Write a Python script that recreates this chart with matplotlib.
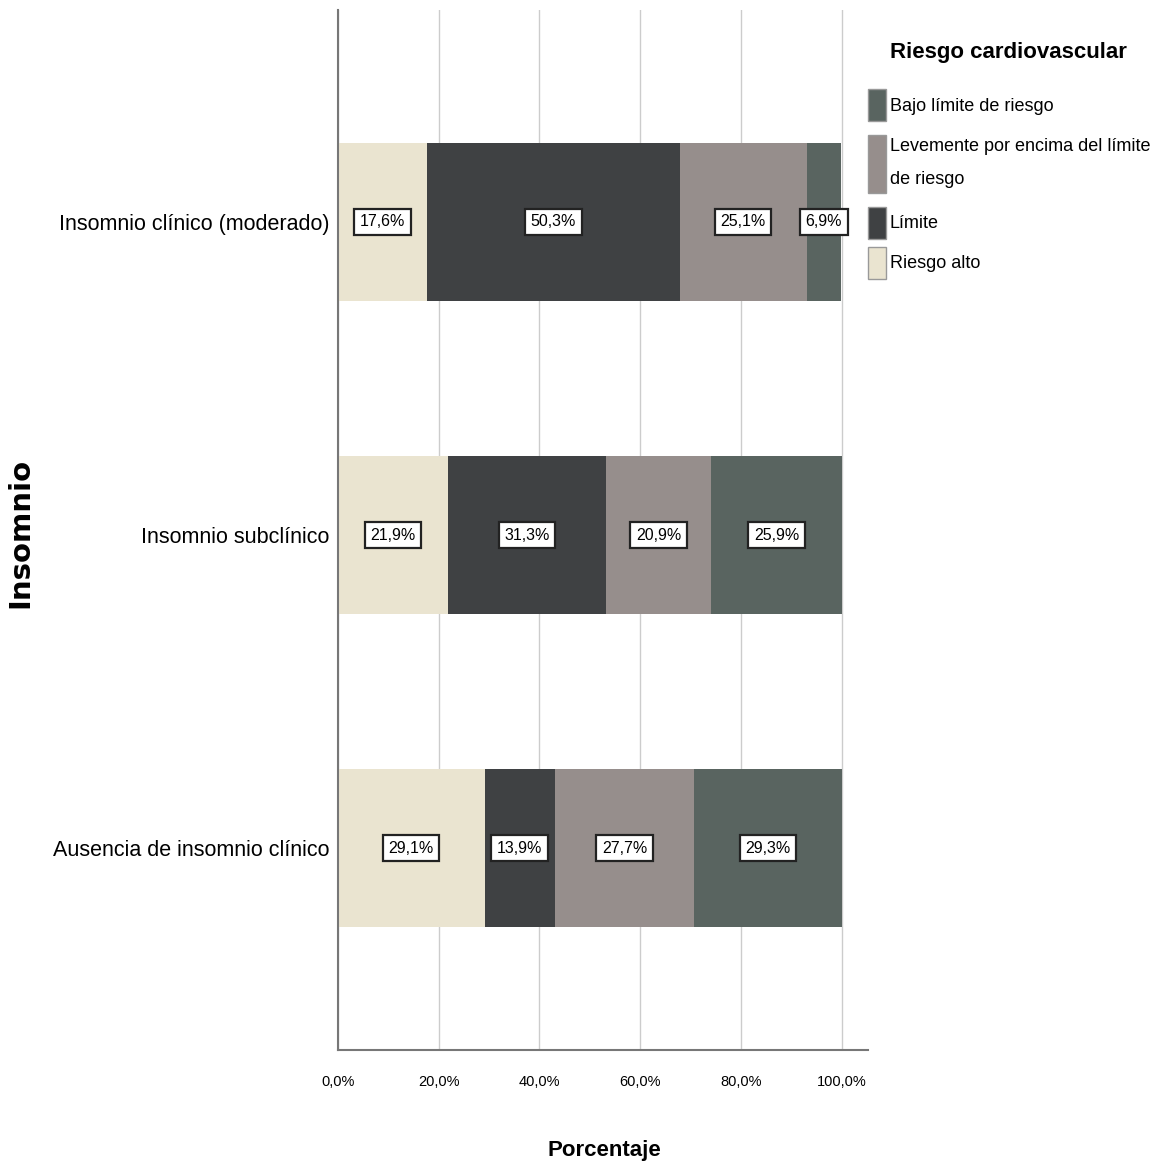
import matplotlib
matplotlib.use("Agg")
import matplotlib.pyplot as plt
from matplotlib.patches import Patch, Rectangle
from matplotlib.legend_handler import HandlerPatch

plt.rcParams['font.family'] = ['Liberation Sans', 'DejaVu Sans']

categorias = ["Insomnio clínico (moderado)", "Insomnio subclínico", "Ausencia de insomnio clínico"]
series = ["Riesgo alto", "Límite", "Levemente por encima del límite\nde riesgo", "Bajo límite de riesgo"]
riesgo_alto = [17.6, 21.9, 29.1]
limite = [50.3, 31.3, 13.9]
levemente = [25.1, 20.9, 27.7]
bajo = [6.9, 25.9, 29.3]
colores = ["#EAE4D0", "#3F4143", "#968E8C", "#596460"]

fig = plt.figure(figsize=(11.59, 11.71), dpi=100)
ax = fig.add_axes([0.2916, 0.1033, 0.4573, 0.8882])

# barras apiladas, de izquierda a derecha
izq = [0, 0, 0]
for vals, col in zip([riesgo_alto, limite, levemente, bajo], colores):
    ax.barh(range(3), vals, left=izq, height=0.505, color=col, zorder=2)
    for i, v in enumerate(vals):
        ax.text(izq[i] + v / 2, i, f"{v:.1f}%".replace(".", ","), ha="center", va="center",
                fontsize=11.5, zorder=3,
                bbox=dict(boxstyle="square,pad=0.35", fc="white", ec="#222222", lw=1.6))
    izq = [a + b for a, b in zip(izq, vals)]

ax.set_xlim(0, 105.2)
ax.set_ylim(2.645, -0.677)
ax.set_xticks([0, 20, 40, 60, 80, 100])
ax.set_xticklabels(["0,0%", "20,0%", "40,0%", "60,0%", "80,0%", "100,0%"], fontsize=10.5)
ax.set_yticks(range(3))
ax.set_yticklabels(categorias, fontsize=15.5)
ax.tick_params(length=0, pad=6)
ax.tick_params(axis="x", pad=18)
ax.grid(axis="x", color="#cccccc", lw=1, zorder=0)
for s in ["top", "right"]:
    ax.spines[s].set_visible(False)
for s in ["left", "bottom"]:
    ax.spines[s].set_color("#777777")
    ax.spines[s].set_linewidth(1.5)

fig.text(0.0175, 0.545, "Insomnio", rotation=90, ha="center", va="center",
         fontsize=21, fontweight="bold", family="DejaVu Sans")
fig.text(0.5215, 0.0175, "Porcentaje", ha="center", va="center", fontsize=16, fontweight="bold")


# cuadro alto para la entrada de dos lineas
def cuadro_doble(legend, orig_handle, xdescent, ydescent, width, height, fontsize):
    return Rectangle((-xdescent, -ydescent - height * 0.4), width, height * 1.8)


handles = [Patch(fc=colores[3], ec="#999999"), Patch(fc=colores[2], ec="#999999"),
           Patch(fc=colores[1], ec="#999999"), Patch(fc=colores[0], ec="#999999")]
etiquetas = [series[3], series[2], series[1], series[0]]
leg = fig.legend(handles, etiquetas, title="Riesgo cardiovascular", loc="upper left",
                 bbox_to_anchor=(0.741, 0.972), frameon=False, fontsize=13, borderpad=0,
                 title_fontproperties={"size": 16, "weight": "bold"},
                 handlelength=1.0, handleheight=2.35, handletextpad=0.2, labelspacing=0.45,
                 handler_map={handles[1]: HandlerPatch(patch_func=cuadro_doble)})
for t in leg.get_texts():
    t.set_linespacing(2.2)
leg._legend_box.sep = 19

# la fila de dos lineas ocupa mas alto
fila = leg._legend_handle_box.get_children()[0].get_children()[1]
caja = fila.get_children()[0]
caja.height += 26.7
caja.ydescent += 13.35

fig.savefig("out.png", dpi=100)
